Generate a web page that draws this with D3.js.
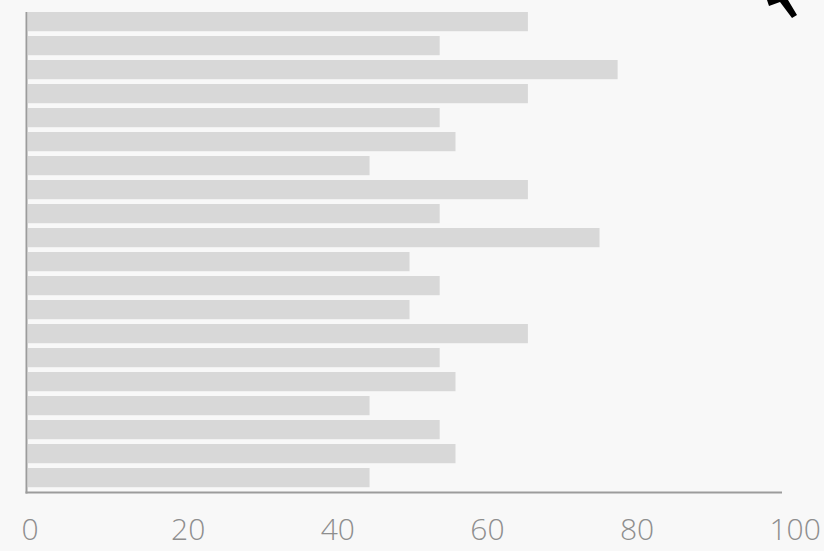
<!DOCTYPE html>
<html>
<head>
<meta charset="utf-8">
<script src="https://cdn.jsdelivr.net/npm/d3@7"></script>
<style>
  html, body { margin: 0; padding: 0; background: #f8f8f8; }
  svg { display: block; }
</style>
</head>
<body>
<script>
const categories = d3.range(1, 21).map(i => "Item " + i);
const values = [66.3, 54.6, 78.2, 66.3, 54.6, 56.7, 45.3, 66.3, 54.6, 75.8,
                50.6, 54.6, 50.6, 66.3, 54.6, 56.7, 45.3, 54.6, 56.7, 45.3];
const tickValues = [0, 20, 40, 60, 80, 100];

const W = 824, H = 551;
const svg = d3.select("body").append("svg").attr("width", W).attr("height", H);
svg.append("rect").attr("width", W).attr("height", H).attr("fill", "#f8f8f8");

const x = d3.scaleLinear().domain([0, 100]).range([28, 782]);
const y = d3.scaleBand().domain(categories).range([12, 487.2]).paddingInner(0.2).paddingOuter(0);

svg.append("g").selectAll("rect").data(values).join("rect")
  .attr("x", x(0))
  .attr("y", (d, i) => y(categories[i]))
  .attr("width", d => x(d) - x(0))
  .attr("height", y.bandwidth())
  .attr("fill", "#d8d8d8");

// axes lines
svg.append("line").attr("x1", 26.5).attr("x2", 26.5).attr("y1", 12).attr("y2", 493.5)
  .attr("stroke", "#9c9c9c").attr("stroke-width", 2);
svg.append("line").attr("x1", 25.5).attr("x2", x(100)).attr("y1", 492.5).attr("y2", 492.5)
  .attr("stroke", "#9c9c9c").attr("stroke-width", 2);

// tick labels
const xl = d3.scaleLinear().domain([0, 100]).range([21, 769]);
const ax = svg.append("g").attr("transform", "translate(0,540)")
  .call(d3.axisBottom(xl).tickValues(tickValues).tickSize(0).tickPadding(0).tickFormat(d3.format("d")));
ax.select(".domain").remove();
ax.selectAll("text")
  .attr("dy", 0)
  .attr("text-anchor", "start")
  .attr("fill", "#8e8e8e")
  .style("font-family", "'Open Sans', sans-serif")
  .style("font-weight", 300)
  .style("font-size", "30px");

// cursor fragment at top right
svg.append("path")
  .attr("d", "M767,0 L788,0 L797,15 L792,18 L780,2 L769,6 Z")
  .attr("fill", "#000");
</script>
</body>
</html>
